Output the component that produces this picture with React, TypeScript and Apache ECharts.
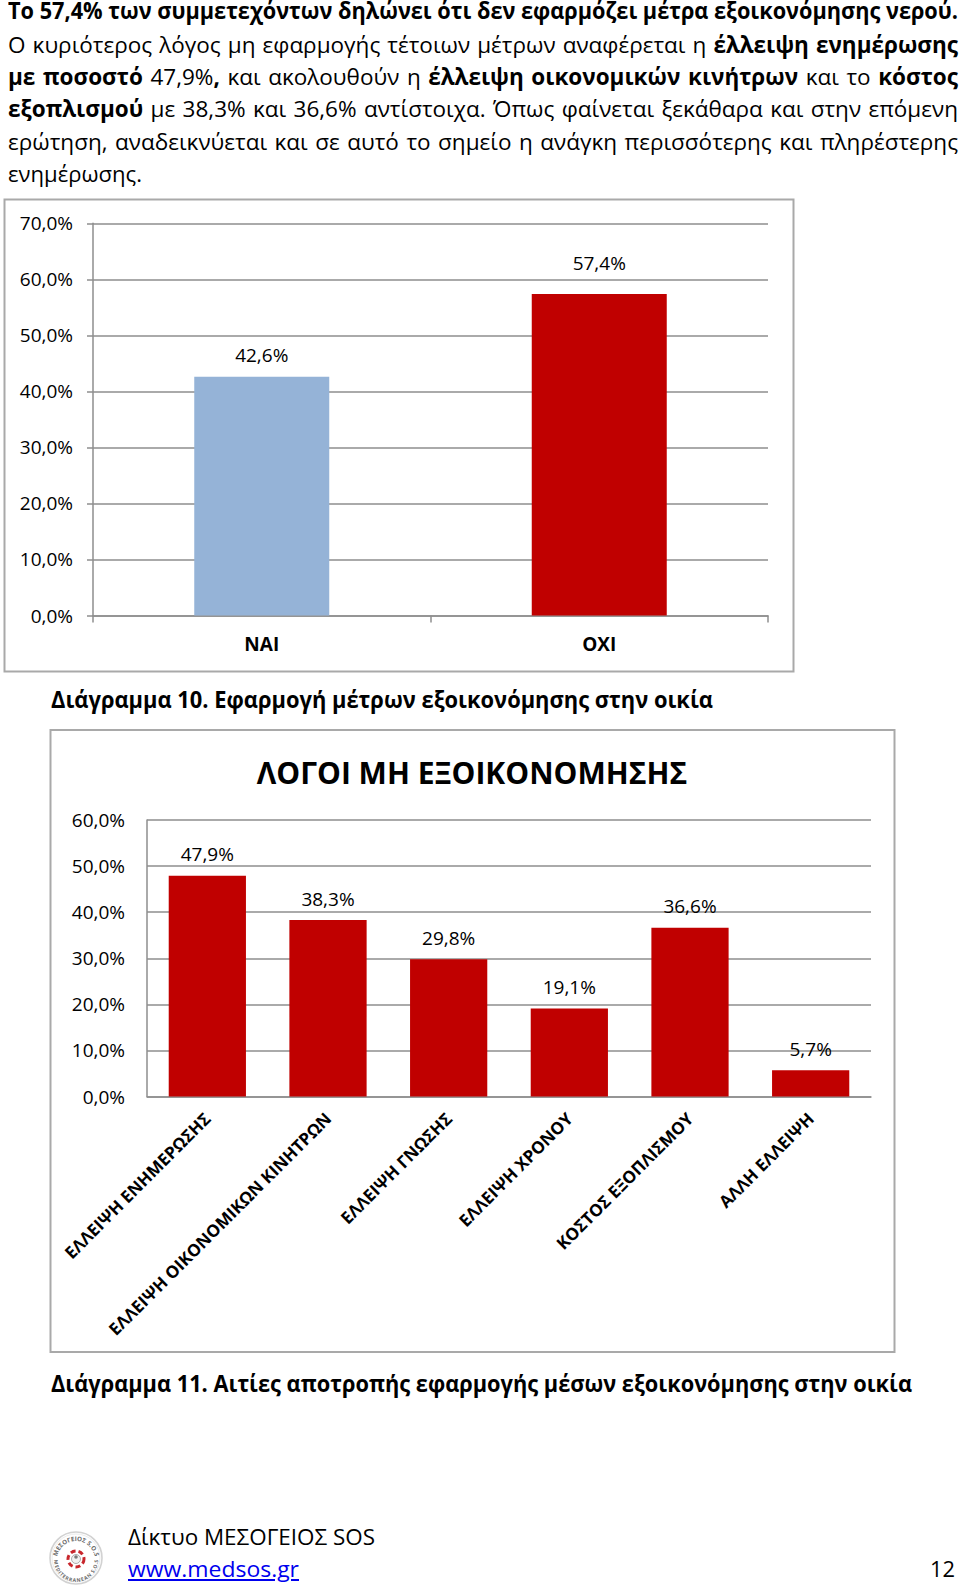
import React, { useEffect, useLayoutEffect, useRef } from "react";
import * as echarts from "echarts";

// ---------- data ----------
const CAT1 = ["ΝΑΙ", "ΟΧΙ"];
const VAL1 = [42.6, 57.4];
const Y1_MIN = 0;
const Y1_MAX = 70;
const Y1_STEP = 10;

const TITLE2 = "ΛΟΓΟΙ ΜΗ ΕΞΟΙΚΟΝΟΜΗΣΗΣ";
const CAT2 = [
  "ΕΛΛΕΙΨΗ ΕΝΗΜΕΡΩΣΗΣ",
  "ΕΛΛΕΙΨΗ ΟΙΚΟΝΟΜΙΚΩΝ ΚΙΝΗΤΡΩΝ",
  "ΕΛΛΕΙΨΗ ΓΝΩΣΗΣ",
  "ΕΛΛΕΙΨΗ ΧΡΟΝΟΥ",
  "ΚΟΣΤΟΣ ΕΞΟΠΛΙΣΜΟΥ",
  "ΑΛΛΗ ΕΛΛΕΙΨΗ",
];
const VAL2 = [47.9, 38.3, 29.8, 19.1, 36.6, 5.7];
const Y2_MIN = 0;
const Y2_MAX = 60;
const Y2_STEP = 10;

// ---------- styling (kept apart from data) ----------
const FONT = '"Open Sans", "Noto Sans", "DejaVu Sans", sans-serif';
const COLORS1 = ["#95b3d7", "#c00000"];
const COLOR2 = "#c00000";
const LABEL_GAP1 = [12, 21];
const GRID_COLOR = "#8e8e8e";
const BORDER_COLOR = "#a9a9a9";

const pct = (v: number) => v.toFixed(1).replace(".", ",") + "%";

type Seg = [string, boolean];
type Line = { segs: Seg[]; x: number; w: number; base: number; j: boolean; color?: string; underline?: boolean };

const FS = 22.5;
const LH = 18;
const LINES: Line[] = [
  { segs: [["Το 57,4% των συμμετεχόντων δηλώνει ότι δεν εφαρμόζει μέτρα εξοικονόμησης νερού.", true]], x: 8, w: 950, base: 20, j: false },
  {
    segs: [
      ["Ο κυριότερος λόγος μη εφαρμογής τέτοιων μέτρων αναφέρεται η ", false],
      ["έλλειψη ενημέρωσης", true],
    ],
    x: 8, w: 950, base: 54, j: true,
  },
  {
    segs: [
      ["με ποσοστό", true],
      [" 47,9%", false],
      [",", true],
      [" και ακολουθούν η ", false],
      ["έλλειψη οικονομικών κινήτρων", true],
      [" και το ", false],
      ["κόστος", true],
    ],
    x: 8, w: 950, base: 86, j: true,
  },
  {
    segs: [
      ["εξοπλισμού", true],
      [" με 38,3% και 36,6% αντίστοιχα. Όπως φαίνεται ξεκάθαρα και στην επόμενη", false],
    ],
    x: 8, w: 950, base: 118, j: true,
  },
  {
    segs: [["ερώτηση, αναδεικνύεται και σε αυτό το σημείο η ανάγκη περισσότερης και πληρέστερης", false]],
    x: 8, w: 950, base: 151, j: true,
  },
  { segs: [["ενημέρωσης.", false]], x: 8, w: 134, base: 183, j: false },
  { segs: [["Διάγραμμα 10. Εφαρμογή μέτρων εξοικονόμησης στην οικία", true]], x: 51, w: 662, base: 709, j: false },
  { segs: [["Διάγραμμα 11. Αιτίες αποτροπής εφαρμογής μέσων εξοικονόμησης στην οικία", true]], x: 51, w: 861, base: 1393, j: false },
  { segs: [["Δίκτυο ΜΕΣΟΓΕΙΟΣ SOS", false]], x: 128, w: 247, base: 1546, j: false },
  { segs: [["www.medsos.gr", false]], x: 128, w: 171, base: 1578, j: false, color: "#0000ee", underline: true },
  { segs: [["12", false]], x: 930, w: 25, base: 1578, j: false },
];

function fitLines(root: HTMLElement | null) {
  if (!root) return;
  const els = root.querySelectorAll<HTMLElement>("[data-w]");
  els.forEach((el) => {
    const target = Number(el.dataset.w);
    const just = el.dataset.j === "1";
    el.style.wordSpacing = "0px";
    el.style.transform = "none";
    const w = el.getBoundingClientRect().width;
    if (!w) return;
    const spaces = (el.textContent || "").split(" ").length - 1;
    if (just && w < target && spaces > 0) {
      el.style.wordSpacing = (target - w) / spaces + "px";
    } else {
      el.style.transform = `scaleX(${target / w})`;
    }
  });
}

function Logo() {
  return (
    <svg width={56} height={56} style={{ position: "absolute", left: 48, top: 1530 }} viewBox="0 0 56 56">
      <defs>
        <path id="arcTop" d="M 9 30 A 19 19 0 0 1 47 30" />
        <path id="arcBot" d="M 10 30 A 18 18 0 0 0 46 30" />
      </defs>
      <circle cx={28} cy={28} r={26} fill="#ffffff" stroke="#d2d2d2" strokeWidth={1.6} />
      <circle cx={28} cy={28} r={24} fill="none" stroke="#ececec" strokeWidth={1} />
      <text fontSize={6.2} fill="#6a6a6a" fontFamily={FONT} fontWeight={700}>
        <textPath href="#arcTop" startOffset="50%" textAnchor="middle">ΜΕΣΟΓΕΙΟΣ S.O.S</textPath>
      </text>
      <text fontSize={5} fill="#6a6a6a" fontFamily={FONT} fontWeight={700}>
        <textPath href="#arcBot" startOffset="50%" textAnchor="middle" dominantBaseline="hanging">MEDITERRANEAN S.O.S</textPath>
      </text>
      <circle cx={28} cy={29} r={8} fill="none" stroke="#c8262c" strokeWidth={3} strokeDasharray="5 3" />
      <circle cx={28} cy={29} r={4.5} fill="#f1f1f1" stroke="#9a9a9a" strokeWidth={0.8} />
      <circle cx={28} cy={27} r={1.8} fill="#7a7a7a" />
    </svg>
  );
}

export default function App() {
  const chartRef = useRef<HTMLDivElement>(null);
  const textRef = useRef<HTMLDivElement>(null);

  useLayoutEffect(() => {
    fitLines(textRef.current);
    const d: any = (document as any).fonts;
    if (d && d.ready) d.ready.then(() => fitLines(textRef.current));
  }, []);

  useEffect(() => {
    if (!chartRef.current) return;
    const chart = echarts.init(chartRef.current, null, { renderer: "svg" });
    const axisLabelBase = { color: "#000", fontFamily: FONT };
    const option: any = {
      animation: false,
      backgroundColor: "transparent",
      grid: [
        { left: 93, top: 223.3, width: 675, height: 392.2, containLabel: false },
        { left: 147, top: 820, width: 724, height: 276.5, containLabel: false },
      ],
      xAxis: [
        {
          type: "category",
          gridIndex: 0,
          data: CAT1,
          axisLine: { show: true, lineStyle: { color: GRID_COLOR, width: 1.5 } },
          axisTick: { show: true, length: 7, lineStyle: { color: GRID_COLOR, width: 1.5 } },
          axisLabel: { ...axisLabelBase, fontSize: 19, fontWeight: "bold", margin: 19 },
        },
        {
          type: "category",
          gridIndex: 1,
          data: CAT2,
          axisLine: { show: true, lineStyle: { color: GRID_COLOR, width: 1.5 } },
          axisTick: { show: false },
          axisLabel: {
            ...axisLabelBase,
            fontSize: 17,
            fontWeight: "bold",
            rotate: 45,
            interval: 0,
            margin: 19,
          },
        },
      ],
      yAxis: [
        {
          type: "value",
          gridIndex: 0,
          min: Y1_MIN,
          max: Y1_MAX,
          interval: Y1_STEP,
          axisLine: { show: true, lineStyle: { color: GRID_COLOR, width: 1.5 } },
          axisTick: { show: true, length: 6, lineStyle: { color: GRID_COLOR, width: 1.5 } },
          splitLine: { show: true, lineStyle: { color: GRID_COLOR, width: 1.5 } },
          axisLabel: { ...axisLabelBase, fontSize: 19, margin: 20, formatter: (v: number) => pct(v) },
        },
        {
          type: "value",
          gridIndex: 1,
          min: Y2_MIN,
          max: Y2_MAX,
          interval: Y2_STEP,
          axisLine: { show: true, lineStyle: { color: GRID_COLOR, width: 1.5 } },
          axisTick: { show: false },
          splitLine: { show: true, lineStyle: { color: GRID_COLOR, width: 1.5 } },
          axisLabel: { ...axisLabelBase, fontSize: 19, margin: 22, formatter: (v: number) => pct(v) },
        },
      ],
      series: [
        {
          type: "bar",
          xAxisIndex: 0,
          yAxisIndex: 0,
          barWidth: "40%",
          data: VAL1.map((v, i) => ({
            value: v,
            itemStyle: { color: COLORS1[i % COLORS1.length] },
            label: { distance: LABEL_GAP1[i % LABEL_GAP1.length] },
          })),
          label: {
            show: true,
            position: "top",
            color: "#000",
            fontFamily: FONT,
            fontSize: 19,
            formatter: (p: any) => pct(p.value),
          },
        },
        {
          type: "bar",
          xAxisIndex: 1,
          yAxisIndex: 1,
          barWidth: "64%",
          itemStyle: { color: COLOR2 },
          data: VAL2,
          label: {
            show: true,
            position: "top",
            distance: 12,
            color: "#000",
            fontFamily: FONT,
            fontSize: 19,
            formatter: (p: any) => pct(p.value),
          },
        },
      ],
      graphic: [
        {
          type: "rect",
          shape: { x: 4.5, y: 199.5, width: 789, height: 472 },
          style: { fill: "none", stroke: BORDER_COLOR, lineWidth: 2 },
          silent: true,
        },
        {
          type: "rect",
          shape: { x: 50.5, y: 730, width: 844, height: 622 },
          style: { fill: "none", stroke: BORDER_COLOR, lineWidth: 2 },
          silent: true,
        },
        {
          type: "text",
          x: 472,
          y: 772,
          style: {
            text: TITLE2,
            fill: "#000",
            font: `bold 30px ${FONT}`,
            textAlign: "center",
            textVerticalAlign: "middle",
          },
          silent: true,
        },
      ],
    };
    chart.setOption(option);
    return () => chart.dispose();
  }, []);

  return (
    <div style={{ position: "absolute", left: 0, top: 0, width: 960, height: 1589, background: "#fff", overflow: "hidden" }}>
      <div ref={chartRef} style={{ position: "absolute", left: 0, top: 0, width: 960, height: 1589 }} />
      <div ref={textRef} style={{ position: "absolute", left: 0, top: 0, width: 960, height: 1589, pointerEvents: "none" }}>
        {LINES.map((ln, i) => (
          <div
            key={i}
            data-w={ln.w}
            data-j={ln.j ? "1" : "0"}
            style={{
              position: "absolute",
              left: ln.x,
              top: ln.base - ((LH - 1.362 * FS) / 2 + 1.069 * FS),
              whiteSpace: "nowrap",
              fontFamily: FONT,
              fontSize: FS,
              lineHeight: LH + "px",
              color: ln.color || "#000",
              textDecoration: ln.underline ? "underline" : "none",
              transformOrigin: "0 0",
            }}
          >
            {ln.segs.map((s, k) => (
              <span key={k} style={{ fontWeight: s[1] ? 700 : 400 }}>{s[0]}</span>
            ))}
          </div>
        ))}
      </div>
      <Logo />
    </div>
  );
}
